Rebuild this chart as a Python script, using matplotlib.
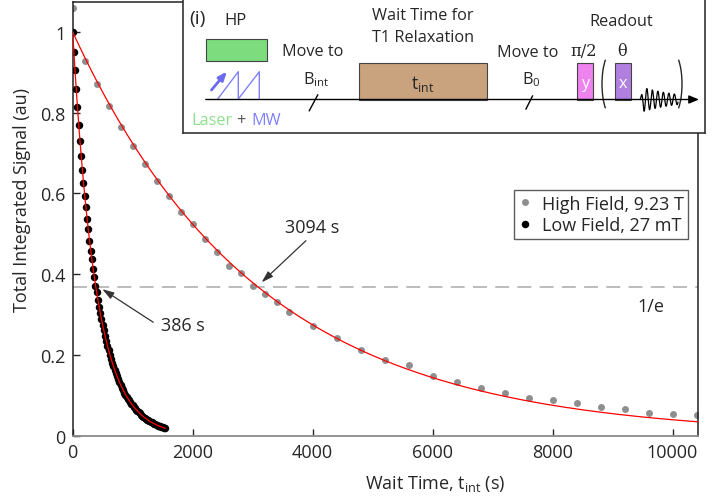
import numpy as np
import matplotlib
matplotlib.use('Agg')
import matplotlib.pyplot as plt
from matplotlib.patches import Rectangle, Arc

plt.rcParams['font.family'] = ['Open Sans', 'DejaVu Sans']
plt.rcParams['mathtext.fontset'] = 'custom'
plt.rcParams['mathtext.rm'] = 'Open Sans'
plt.rcParams['mathtext.it'] = 'Open Sans:italic'
plt.rcParams['lines.scale_dashes'] = False

# high field (9.23 T) data
high_t = [0, 200, 400, 600, 800, 1000, 1200, 1400, 1600, 1800, 2000, 2200, 2400,
          2600, 2800, 3000, 3200, 3400, 3600, 4000, 4400, 4800, 5200, 5600, 6000,
          6400, 6800, 7200, 7600, 8000, 8400, 8800, 9200, 9600, 10000, 10400]
high_y = [1.060, 0.927, 0.872, 0.816, 0.765, 0.718, 0.674, 0.631, 0.594, 0.554,
          0.524, 0.488, 0.455, 0.421, 0.404, 0.371, 0.351, 0.330, 0.307, 0.272,
          0.242, 0.213, 0.188, 0.175, 0.147, 0.132, 0.117, 0.105, 0.093, 0.088,
          0.081, 0.071, 0.066, 0.056, 0.053, 0.052]

# low field (27 mT) data, one point every 20 s
low_t = list(range(0, 1541, 20))
low_y = [1.000, 0.951, 0.906, 0.858, 0.814, 0.770, 0.731, 0.694, 0.657, 0.625,
         0.593, 0.566, 0.536, 0.511, 0.483, 0.458, 0.437, 0.413, 0.394, 0.372,
         0.356, 0.336, 0.320, 0.303, 0.289, 0.273, 0.261, 0.246, 0.235, 0.222,
         0.212, 0.200, 0.191, 0.180, 0.172, 0.163, 0.155, 0.147, 0.140, 0.132,
         0.126, 0.119, 0.114, 0.107, 0.102, 0.097, 0.092, 0.088, 0.083, 0.079,
         0.075, 0.071, 0.068, 0.064, 0.061, 0.058, 0.055, 0.052, 0.050, 0.047,
         0.045, 0.042, 0.040, 0.038, 0.036, 0.035, 0.033, 0.031, 0.030, 0.028,
         0.027, 0.025, 0.024, 0.023, 0.022, 0.021, 0.020, 0.019]

# fitted T1 values (s)
T1_high = 3094
T1_low = 386

x_ticks = [0, 2000, 4000, 6000, 8000, 10000]
y_ticks = [0, 0.2, 0.4, 0.6, 0.8, 1]
y_ticklabels = ['0', '0.2', '0.4', '0.6', '0.8', '1']

W, H = 727, 502
fig = plt.figure(figsize=(W / 100, H / 100), dpi=100)
ax = fig.add_axes([72.7 / W, 1 - 436.7 / H, 625 / W, 434 / H])

txt = '#262626'
ax.axhline(np.exp(-1), color='#b0b0b0', lw=1.2, dashes=(10, 6), zorder=1)

ax.plot(high_t, high_y, 'o', color='#8e8e8e', ms=5.0, mec='none', zorder=2,
        label='High Field, 9.23 T', clip_on=True)
ax.plot(low_t, low_y, 'o', color='black', ms=5.4, mec='none', zorder=3,
        label='Low Field, 27 mT')

tf = np.linspace(0, 10420, 500)
ax.plot(tf, np.exp(-tf / T1_high), color='#ff0000', lw=0.9, zorder=4)
tl = np.linspace(0, low_t[-1], 300)
ax.plot(tl, np.exp(-tl / T1_low), color='#ff0000', lw=0.9, zorder=4)

ax.set_xlim(0, 10420)
ax.set_ylim(0, 1.075)
ax.set_xticks(x_ticks)
ax.set_yticks(y_ticks)
ax.set_yticklabels(y_ticklabels)
ax.tick_params(direction='in', length=5, width=1, labelsize=13, colors=txt, pad=5)
for s in ['left', 'top', 'right']:
    ax.spines[s].set_color('#222222')
    ax.spines[s].set_linewidth(1.1)
ax.spines['bottom'].set_color('#8a8a8a')
ax.spines['bottom'].set_linewidth(1.3)

ax.set_xlabel('Wait Time, t$_{\\mathrm{int}}$ (s)', fontsize=13, color=txt)
ax.xaxis.set_label_coords(0.58, -0.085)
ax.set_ylabel('Total Integrated Signal (au)', fontsize=13, color=txt)
ax.yaxis.set_label_coords(-0.066, 0.545)

arw = dict(arrowstyle='-|>,head_length=0.7,head_width=0.22', color='#333333', lw=0.9,
           shrinkA=0, shrinkB=0)
ax.annotate('386 s', xy=(493, 0.363), xytext=(1470, 0.274), fontsize=13, color=txt,
            va='center', ha='left')
ax.annotate('', xy=(493, 0.363), xytext=(1343, 0.281), arrowprops=arw)
ax.annotate('3094 s', xy=(3150, 0.380), xytext=(3540, 0.516), fontsize=13, color=txt,
            va='center', ha='left')
ax.annotate('', xy=(3150, 0.380), xytext=(3888, 0.483), arrowprops=arw)
ax.text(9640, 0.322, '1/e', fontsize=13, color=txt, ha='center', va='center')

leg = ax.legend(loc='lower right', bbox_to_anchor=(0.9845, 0.454), fontsize=13,
                frameon=True, fancybox=False, handlelength=0.8, handletextpad=0.5,
                borderpad=0.25, labelspacing=0.2, borderaxespad=0)
leg.get_frame().set_edgecolor('#333333')
leg.get_frame().set_linewidth(1.0)
for t in leg.get_texts():
    t.set_color(txt)

# pulse sequence inset, drawn in picture pixel units
x0, x1, y1 = 182.5, 705, 134
ins = fig.add_axes([x0 / W, 1 - y1 / H, (x1 - x0) / W, y1 / H])
ins.set_xlim(x0, x1)
ins.set_ylim(y1, 0)
ins.set_xticks([])
ins.set_yticks([])
for s in ins.spines.values():
    s.set_color('#333333')
    s.set_linewidth(1.2)

fs = 11.7
ins.text(189.5, 19, '(i)', fontsize=14, color=txt, va='center')
ins.text(224, 21, 'HP', fontsize=12, color=txt, va='center')
ins.add_patch(Rectangle((205.7, 39.5), 61.5, 22, fc='#7ddc7d', ec='#444444', lw=0.8))
blue = '#8080ff'
ins.plot([217.7, 238.3, 238.3, 259.3, 259.3], [100, 72.7, 100, 72.7, 100], color=blue, lw=1)
ins.annotate('', xy=(227, 72.5), xytext=(211.5, 91),
             arrowprops=dict(arrowstyle='-|>,head_length=0.5,head_width=0.2',
                             color='#6b6bef', lw=2, shrinkA=0, shrinkB=0))
ins.annotate('', xy=(699, 100.5), xytext=(205.7, 100.5),
             arrowprops=dict(arrowstyle='-|>,head_length=0.6,head_width=0.25',
                             color='black', lw=1, shrinkA=0, shrinkB=0))
ins.text(191.5, 121, 'Laser', fontsize=fs, color='#8ee08e', va='center')
ins.text(241, 121, '+', fontsize=fs, color='#555555', va='center', ha='center')
ins.text(251.5, 121, 'MW', fontsize=fs, color=blue, va='center')

ins.text(313, 52, 'Move to', fontsize=fs, color=txt, va='center', ha='center')
ins.text(303, 80, 'B$_{\\mathrm{int}}$', fontsize=fs, color=txt, va='center')
ins.plot([317.7, 309.3], [96, 111.7], color='black', lw=1)

ins.text(423, 16, 'Wait Time for', fontsize=fs, color=txt, va='center', ha='center')
ins.text(423, 38, 'T1 Relaxation', fontsize=fs, color=txt, va='center', ha='center')
ins.add_patch(Rectangle((359, 64), 128, 37, fc='#c9a27e', ec='#444444', lw=0.8))
ins.text(423, 84, 't$_{\\mathrm{int}}$', fontsize=fs + 1, color=txt, va='center', ha='center')

ins.text(528, 53, 'Move to', fontsize=fs, color=txt, va='center', ha='center')
ins.text(522, 80, 'B$_{\\mathrm{0}}$', fontsize=fs, color=txt, va='center')
ins.plot([532.5, 526], [97, 110], color='black', lw=1)

ins.text(621, 22, 'Readout', fontsize=fs, color=txt, va='center', ha='center')
ins.text(584, 52, '\u03c0/2', fontsize=fs, color=txt, va='center', ha='center',
         family=['DejaVu Serif'])
ins.text(622, 52, '\u03b8', fontsize=fs, color=txt, va='center', ha='center',
         family=['DejaVu Serif'])
ins.add_patch(Rectangle((577, 64), 15.5, 37, fc='#ee82ee', ec='#444444', lw=0.8))
ins.text(584.7, 84, 'y', fontsize=fs, color='white', va='center', ha='center')
ins.add_patch(Rectangle((615, 64), 15.5, 37, fc='#b07fe0', ec='#444444', lw=0.8))
ins.text(622.7, 84, 'x', fontsize=fs, color='white', va='center', ha='center')
ins.add_patch(Arc((612, 85), 20, 64, theta1=105, theta2=255, color=txt, lw=1))
ins.add_patch(Arc((672, 85), 20, 64, theta1=-75, theta2=75, color=txt, lw=1))
fx = np.linspace(640, 678, 300)
env = np.clip((fx - 640) / 4, 0, 1) * np.exp(-(fx - 640) / 40)
fy = 100.5 - 13 * np.sin(2 * np.pi * (fx - 640) / 5.5) * env
ins.plot(fx, fy, color='black', lw=0.9)

fig.savefig('out.png', dpi=100)
